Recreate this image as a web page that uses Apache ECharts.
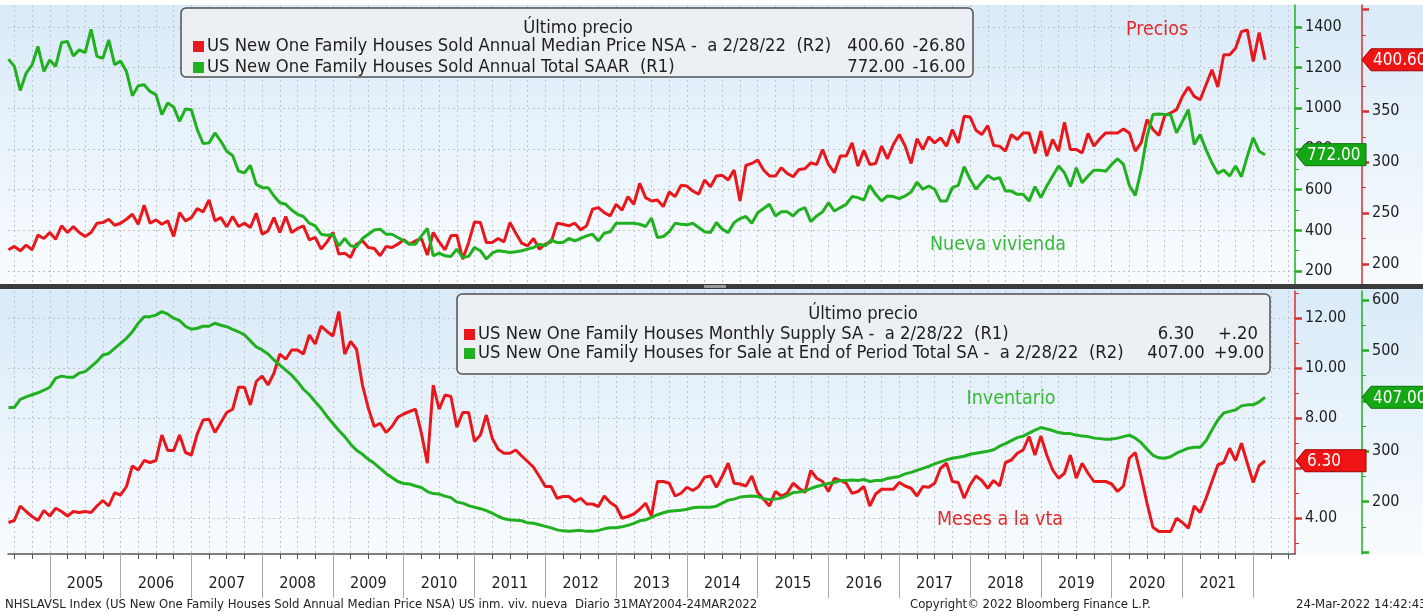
<!DOCTYPE html>
<html>
<head>
<meta charset="utf-8">
<title>US New One Family Houses</title>
<script src="https://cdn.jsdelivr.net/npm/echarts@6/dist/echarts.min.js"></script>
<style>
  html, body { margin: 0; padding: 0; background: #fff; }
  #chart { width: 1423px; height: 612px; }
</style>
</head>
<body>
<div id="chart"></div>
<script>
// monthly values (month end), May 2004 .. Feb 2022
const firstYear = 2004
const firstMonth = 5

// top panel, R2: median price, $ thousands
const medianPrice = [
  214.0, 217.3, 213.0, 218.6, 214.0, 228.4, 225.1, 231.0,
  224.4, 237.5, 231.0, 236.8, 231.0, 227.1, 231.0, 240.1, 240.7, 244.0, 238.1, 240.1,
  244.0, 248.9, 239.1, 257.7, 240.1, 243.4, 239.1, 242.4, 227.1, 250.5, 242.4, 245.6,
  254.4, 251.2, 262.9, 242.4, 245.6, 236.5, 246.6, 236.8, 240.1, 235.9, 249.9, 229.3,
  232.6, 245.6, 231.0, 246.6, 231.0, 234.9, 237.5, 223.8, 226.1, 214.7, 221.8, 231.0,
  209.8, 210.7, 206.5, 219.5, 222.8, 216.3, 215.3, 208.1, 217.3, 216.3, 219.5, 223.8,
  219.5, 222.8, 225.1, 208.8, 231.0, 221.8, 214.0, 227.7, 228.3, 204.8, 221.2, 241.4,
  240.7, 221.2, 221.2, 225.1, 221.8, 240.7, 230.3, 220.5, 217.9, 225.1, 214.6, 219.5,
  221.8, 240.1, 239.1, 237.5, 240.1, 233.6, 237.5, 253.8, 255.4, 250.5, 247.3, 258.7,
  252.8, 266.2, 258.7, 279.2, 265.2, 261.9, 262.9, 256.4, 270.7, 266.2, 277.3, 276.6,
  271.7, 268.5, 282.5, 276.0, 286.4, 287.1, 282.5, 292.3, 261.9, 296.8, 298.8, 302.1,
  292.3, 286.4, 286.4, 294.6, 289.0, 285.7, 292.9, 293.6, 299.4, 297.8, 312.5, 297.8,
  289.7, 306.0, 306.0, 319.0, 296.2, 311.8, 297.8, 298.8, 315.8, 303.4, 317.4, 327.2,
  315.8, 298.8, 323.0, 312.5, 324.9, 319.0, 323.9, 315.8, 332.1, 319.0, 345.1, 344.5,
  331.4, 327.2, 336.0, 316.4, 315.8, 310.9, 327.2, 322.3, 328.8, 328.8, 308.6, 330.5,
  306.0, 322.3, 310.9, 339.3, 312.5, 312.5, 309.2, 328.2, 315.8, 323.0, 328.8, 328.8,
  328.8, 332.7, 328.8, 310.9, 319.0, 341.9, 332.1, 326.2, 345.8, 348.4, 351.7, 364.7,
  373.8, 364.7, 361.4, 376.1, 390.8, 373.8, 405.5, 405.5, 412.0, 428.3, 429.9, 398.9,
  427.4, 400.6
]

// top panel, R1: houses sold, annual total SAAR, thousands
const salesSAAR = [
  1242, 1206, 1088, 1173, 1214, 1304, 1181, 1238,
  1206, 1323, 1328, 1258, 1287, 1274, 1388, 1255, 1246, 1336, 1214, 1233,
  1181, 1062, 1111, 1116, 1083, 1067, 969, 1026, 1006, 936, 997, 993,
  895, 827, 830, 879, 838, 789, 768, 691, 683, 719, 626, 610,
  610, 569, 536, 528, 500, 479, 468, 435, 422, 381, 376, 378,
  324, 360, 324, 319, 360, 381, 402, 406, 381, 381, 365, 349,
  332, 332, 373, 409, 275, 288, 275, 272, 308, 267, 272, 316,
  300, 259, 288, 300, 296, 291, 295, 300, 308, 316, 332, 324,
  353, 340, 340, 360, 348, 360, 373, 381, 348, 386, 393, 435,
  435, 435, 435, 430, 419, 460, 365, 370, 393, 435, 430, 427,
  435, 414, 393, 389, 438, 406, 389, 438, 458, 468, 435, 487,
  507, 528, 471, 491, 491, 471, 500, 512, 443, 471, 491, 536,
  495, 512, 528, 566, 561, 549, 621, 577, 544, 569, 566, 556,
  569, 588, 637, 602, 618, 602, 544, 544, 610, 621, 713, 651,
  602, 637, 670, 651, 659, 593, 593, 577, 577, 544, 615, 561,
  618, 667, 716, 683, 615, 708, 634, 667, 696, 696, 691, 724,
  752, 724, 621, 572, 696, 863, 969, 972, 969, 969, 879, 936,
  993, 822, 871, 797, 732, 680, 696, 667, 716, 664, 765, 855,
  789, 772
]

// bottom panel, R1: months of supply
const monthsSupply = [
  3.83, 3.91, 4.49, 4.27, 4.07, 3.91, 4.31, 4.09,
  4.40, 4.27, 4.09, 4.27, 4.23, 4.27, 4.23, 4.49, 4.71, 4.49, 5.02, 4.93,
  5.27, 6.09, 5.93, 6.31, 6.23, 6.31, 7.33, 6.71, 6.71, 7.33, 6.63, 6.53,
  7.37, 7.93, 7.96, 7.43, 7.83, 8.23, 8.36, 9.24, 9.24, 8.53, 9.47, 9.69,
  9.33, 9.80, 10.57, 10.36, 10.73, 10.73, 10.57, 11.33, 10.97, 11.69, 11.47, 11.29,
  12.27, 10.57, 11.07, 10.76, 9.33, 8.40, 7.67, 7.80, 7.43, 7.67, 8.04, 8.17,
  8.27, 8.36, 7.40, 6.20, 9.33, 8.36, 8.93, 8.87, 7.64, 8.23, 8.23, 7.07,
  7.33, 8.13, 7.20, 6.76, 6.60, 6.60, 6.73, 6.49, 6.27, 6.04, 5.67, 5.27,
  5.27, 4.80, 4.87, 4.87, 4.67, 4.80, 4.57, 4.57, 4.47, 4.89, 4.63, 4.47,
  4.00, 4.07, 4.17, 4.36, 4.60, 4.09, 5.47, 5.47, 5.40, 4.89, 5.00, 5.24,
  5.11, 5.27, 5.64, 5.69, 5.24, 5.69, 6.20, 5.40, 5.37, 5.29, 5.69, 5.03,
  4.76, 4.49, 5.07, 4.89, 5.00, 5.40, 5.20, 5.03, 5.91, 5.60, 5.47, 5.07,
  5.60, 5.51, 5.40, 5.00, 5.07, 5.27, 4.49, 4.97, 5.16, 5.16, 5.16, 5.43,
  5.29, 5.20, 4.89, 5.27, 5.24, 5.40, 6.00, 6.20, 5.47, 5.43, 4.80, 5.33,
  5.69, 5.51, 5.20, 5.51, 5.29, 6.23, 6.33, 6.60, 6.73, 7.27, 6.53, 7.29,
  6.53, 5.93, 5.60, 5.80, 6.53, 5.60, 6.20, 5.80, 5.47, 5.47, 5.47, 5.37,
  5.07, 5.29, 6.40, 6.63, 5.67, 4.60, 3.64, 3.47, 3.47, 3.47, 4.00, 3.83,
  3.60, 4.49, 4.23, 4.80, 5.47, 6.13, 6.23, 6.80, 6.31, 7.00, 6.20, 5.43,
  6.10, 6.30
]

// bottom panel, R2: houses for sale at end of period, thousands
const forSale = [
  387, 387, 403, 408, 412, 416, 421, 427,
  445, 449, 447, 447, 455, 458, 468, 478, 491, 494, 504, 514,
  524, 537, 554, 567, 567, 570, 577, 572, 564, 559, 548, 542,
  544, 548, 548, 554, 550, 547, 542, 537, 531, 519, 507, 501,
  493, 481, 471, 461, 451, 438, 423, 412, 398, 385, 369, 355,
  341, 329, 314, 302, 294, 284, 276, 266, 256, 248, 240, 236,
  235, 231, 228, 220, 216, 215, 211, 208, 199, 197, 192, 189,
  186, 182, 177, 171, 166, 164, 163, 162, 158, 157, 154, 151,
  148, 144, 142, 141, 142, 143, 141, 141, 143, 146, 148, 148,
  150, 153, 157, 162, 164, 169, 174, 178, 181, 182, 183, 185,
  188, 189, 189, 189, 191, 197, 203, 205, 209, 210, 211, 210,
  206, 204, 205, 207, 212, 218, 219, 221, 226, 230, 233, 236,
  238, 242, 242, 243, 242, 244, 240, 242, 242, 246, 248, 250,
  255, 258, 262, 266, 270, 275, 279, 283, 286, 288, 290, 294,
  296, 298, 300, 303, 310, 315, 321, 327, 330, 336, 342, 347,
  344, 341, 337, 335, 335, 332, 330, 329, 326, 325, 324, 324,
  326, 329, 332, 326, 317, 304, 292, 287, 286, 289, 296, 301,
  306, 308, 308, 321, 342, 362, 376, 379, 382, 390, 392, 392,
  398, 407
]

const yearLabels = [2005, 2006, 2007, 2008, 2009, 2010, 2011, 2012, 2013, 2014, 2015, 2016, 2017, 2018, 2019, 2020, 2021]
const salesTicks = [200, 400, 600, 800, 1000, 1200, 1400]
const salesMinor = [300, 500, 700, 900, 1100, 1300]
const priceTicks = [200, 250, 300, 350, 400, 450]
const priceLabels = [200, 250, 300, 350, 400]
const priceMinor = [225, 275, 325, 375, 425]
const supplyTicks = [4, 6, 8, 10, 12]
const supplyMinor = [3, 5, 7, 9, 11, 13]
const forSaleTicks = [100, 200, 300, 400, 500, 600]
const forSaleLabels = [200, 300, 400, 500, 600]
const forSaleMinor = [150, 250, 350, 450, 550]

const FONT = '"DejaVu Sans Condensed", "DejaVu Sans", sans-serif'
const RED = '#e8171c'
const GREEN = '#20b020'
const GRID_LINE = { color: '#bcc4cc', type: [2, 3], width: 1 }
const LEGEND_FONT = '18.3px ' + FONT

const months = salesSAAR.map((_, i) => firstYear + (firstMonth + i) / 12)
const toPairs = vals => vals.map((v, i) => [months[i], v])

const X_MIN = 2004.41
const X_MAX = 2022.59
const quarters = []
for (let k = 2004 * 4 + 2; k / 4 <= X_MAX; k++) quarters.push(k / 4)
const yearBounds = yearLabels.concat([yearLabels[yearLabels.length - 1] + 1])

const chart = echarts.init(document.getElementById('chart'))

function rightAxis(grid, offset, min, max, color, ticks, labels, decimals, split) {
  return {
    type: 'value', gridIndex: grid, position: 'right', offset, min, max,
    axisLine: { show: true, lineStyle: { color, width: 1.5 } },
    axisTick: { show: true, customValues: ticks, length: 7, lineStyle: { color, width: 2.5 } },
    axisLabel: {
      show: true, customValues: labels, margin: 10, color: '#1e1e1e',
      fontSize: 16, fontFamily: FONT, formatter: v => Number(v).toFixed(decimals)
    },
    splitLine: { show: split, lineStyle: GRID_LINE }
  }
}

function minorAxis(grid, offset, min, max, color, ticks) {
  return {
    type: 'value', gridIndex: grid, position: 'right', offset, min, max,
    axisLine: { show: false },
    axisTick: { show: true, customValues: ticks, length: 4, lineStyle: { color, width: 1 } },
    axisLabel: { show: false },
    splitLine: { show: false }
  }
}

const xBase = { type: 'value', position: 'bottom', min: X_MIN, max: X_MAX, axisLine: { show: false }, axisLabel: { show: false } }

const panelFill = () => new echarts.graphic.LinearGradient(0, 0, 0, 1, [
  { offset: 0, color: '#d9eaf8' },
  { offset: 1, color: '#f9fcfe' }
])

function txt(text, x, y, font, fill, align) {
  return { type: 'text', z: 60, style: { text, x, y, font, fill, align: align || 'left', verticalAlign: 'middle' } }
}

const graphics = [
  { type: 'rect', z: -10, shape: { x: 0, y: 5, width: 1423, height: 280 }, style: { fill: panelFill() } },
  { type: 'rect', z: -10, shape: { x: 0, y: 289, width: 1423, height: 266 }, style: { fill: panelFill() } },
  { type: 'rect', z: 40, shape: { x: 0, y: 284, width: 1423, height: 5 }, style: { fill: '#3b3b3b' } },
  { type: 'rect', z: 41, shape: { x: 704, y: 285, width: 22, height: 3 }, style: { fill: '#9a9a9a' } },

  // legend, top panel
  { type: 'rect', z: 50, shape: { x: 181, y: 8, width: 792, height: 69, r: 5 }, style: { fill: 'rgba(236,239,242,0.95)', stroke: '#505050', lineWidth: 1.5 } },
  txt('Último precio', 578, 28, LEGEND_FONT, '#1e1e1e', 'center'),
  { type: 'rect', z: 60, shape: { x: 193, y: 41, width: 11, height: 11 }, style: { fill: RED } },
  txt('US New One Family Houses Sold Annual Median Price NSA -  a 2/28/22  (R2)', 207, 46, LEGEND_FONT, '#1e1e1e'),
  txt('400.60', 876, 46, LEGEND_FONT, '#1e1e1e', 'center'),
  txt('-26.80', 939, 46, LEGEND_FONT, '#1e1e1e', 'center'),
  { type: 'rect', z: 60, shape: { x: 193, y: 62, width: 11, height: 11 }, style: { fill: GREEN } },
  txt('US New One Family Houses Sold Annual Total SAAR  (R1)', 207, 67, LEGEND_FONT, '#1e1e1e'),
  txt('772.00', 876, 67, LEGEND_FONT, '#1e1e1e', 'center'),
  txt('-16.00', 939, 67, LEGEND_FONT, '#1e1e1e', 'center'),

  // legend, bottom panel
  { type: 'rect', z: 50, shape: { x: 457, y: 294, width: 813, height: 80, r: 5 }, style: { fill: 'rgba(236,239,242,0.95)', stroke: '#505050', lineWidth: 1.5 } },
  txt('Último precio', 863, 314, LEGEND_FONT, '#1e1e1e', 'center'),
  { type: 'rect', z: 60, shape: { x: 464, y: 329, width: 11, height: 11 }, style: { fill: RED } },
  txt('US New One Family Houses Monthly Supply SA -  a 2/28/22  (R1)', 478, 334, LEGEND_FONT, '#1e1e1e'),
  txt('6.30', 1176, 334, LEGEND_FONT, '#1e1e1e', 'center'),
  txt('+.20', 1238, 334, LEGEND_FONT, '#1e1e1e', 'center'),
  { type: 'rect', z: 60, shape: { x: 464, y: 348, width: 11, height: 11 }, style: { fill: GREEN } },
  txt('US New One Family Houses for Sale at End of Period Total SA -  a 2/28/22  (R2)', 478, 353, LEGEND_FONT, '#1e1e1e'),
  txt('407.00', 1176, 353, LEGEND_FONT, '#1e1e1e', 'center'),
  txt('+9.00', 1239, 353, LEGEND_FONT, '#1e1e1e', 'center'),

  // annotations
  txt('Precios', 1157, 30, '19.5px ' + FONT, '#e52a2a', 'center'),
  txt('Nueva vivienda', 998, 245, '19.5px ' + FONT, '#36bb36', 'center'),
  txt('Inventario', 1011, 399, '19.5px ' + FONT, '#36bb36', 'center'),
  txt('Meses a la vta', 1000, 520, '19.5px ' + FONT, '#e52a2a', 'center'),

  // footer
  txt('NHSLAVSL Index (US New One Family Houses Sold Annual Median Price NSA) US inm. viv. nueva  Diario 31MAY2004-24MAR2022', 5, 605, '13px ' + FONT, '#222'),
  txt('Copyright© 2022 Bloomberg Finance L.P.', 910, 605, '13px ' + FONT, '#222'),
  txt('24-Mar-2022 14:42:43', 1296, 605, '13px ' + FONT, '#222')
]

const option = {
  animation: false,
  backgroundColor: '#ffffff',
  grid: [
    { left: 8, right: 128, top: 5, height: 279, outerBoundsMode: 'none' },
    { left: 8, right: 128, top: 291, height: 263, outerBoundsMode: 'none' }
  ],
  xAxis: [
    { ...xBase, gridIndex: 0, axisTick: { show: false, customValues: quarters }, splitLine: { show: true, lineStyle: GRID_LINE } },
    {
      ...xBase, gridIndex: 1,
      axisLine: { show: true, onZero: false, lineStyle: { color: '#555', width: 1.5 } },
      axisTick: { show: true, customValues: quarters, length: 5, lineStyle: { color: '#555', width: 1 } },
      splitLine: { show: true, lineStyle: GRID_LINE }
    },
    {
      ...xBase, gridIndex: 1,
      axisTick: { show: true, customValues: yearBounds, length: 44, lineStyle: { color: '#a8a8a8', width: 1 } },
      axisLabel: {
        show: true, customValues: yearLabels.map(y => y + 0.5), margin: 22,
        formatter: v => String(Math.floor(v)), color: '#1e1e1e', fontSize: 16, fontFamily: FONT
      },
      splitLine: { show: false }
    }
  ],
  yAxis: [
    rightAxis(0, 0, 136.3, 1507.8, GREEN, salesTicks, salesTicks, 0, true),
    rightAxis(0, 67, 180.4, 454.4, '#d83030', priceTicks, priceLabels, 0, false),
    rightAxis(1, 0, 2.57, 13.09, '#d83030', supplyTicks, supplyTicks, 2, true),
    rightAxis(1, 67, 96.1, 617.9, GREEN, forSaleTicks, forSaleLabels, 0, false),
    minorAxis(0, 0, 136.3, 1507.8, GREEN, salesMinor),
    minorAxis(0, 67, 180.4, 454.4, '#d83030', priceMinor),
    minorAxis(1, 0, 2.57, 13.09, '#d83030', supplyMinor),
    minorAxis(1, 67, 96.1, 617.9, GREEN, forSaleMinor)
  ],
  series: [
    { name: 'Median Price NSA', type: 'line', xAxisIndex: 0, yAxisIndex: 1, data: toPairs(medianPrice), showSymbol: false, lineStyle: { color: RED, width: 3 }, itemStyle: { color: RED }, z: 3 },
    { name: 'Annual Total SAAR', type: 'line', xAxisIndex: 0, yAxisIndex: 0, data: toPairs(salesSAAR), showSymbol: false, lineStyle: { color: GREEN, width: 3 }, itemStyle: { color: GREEN }, z: 4 },
    { name: 'Monthly Supply SA', type: 'line', xAxisIndex: 1, yAxisIndex: 2, data: toPairs(monthsSupply), showSymbol: false, lineStyle: { color: RED, width: 3 }, itemStyle: { color: RED }, z: 3 },
    { name: 'For Sale End of Period', type: 'line', xAxisIndex: 1, yAxisIndex: 3, data: toPairs(forSale), showSymbol: false, lineStyle: { color: GREEN, width: 3 }, itemStyle: { color: GREEN }, z: 4 }
  ],
  graphic: graphics
}

chart.setOption(option)

// last-value tags on the axes, placed through the axis scales
function tag(axisIndex, value, xTip, fill, stroke, label) {
  const y = chart.convertToPixel({ yAxisIndex: axisIndex }, value)
  return [
    {
      type: 'polygon', z: 70,
      shape: { points: [[xTip, y], [xTip + 9, y - 11], [xTip + 70, y - 11], [xTip + 70, y + 11], [xTip + 9, y + 11]] },
      style: { fill, stroke, lineWidth: 1 }
    },
    { type: 'text', z: 71, style: { text: label, x: xTip + 11, y: y + 1, font: '17px ' + FONT, fill: '#fff', verticalAlign: 'middle' } }
  ]
}

const last = a => a[a.length - 1]
option.graphic = graphics.concat(
  tag(1, last(medianPrice), 1362, '#ee1414', '#a00000', last(medianPrice).toFixed(2)),
  tag(0, last(salesSAAR), 1296, '#14a814', '#0a6e0a', last(salesSAAR).toFixed(2)),
  tag(3, last(forSale), 1362, '#14a814', '#0a6e0a', last(forSale).toFixed(2)),
  tag(2, last(monthsSupply), 1296, '#ee1414', '#a00000', last(monthsSupply).toFixed(2))
)
chart.setOption(option, true)
</script>
</body>
</html>
